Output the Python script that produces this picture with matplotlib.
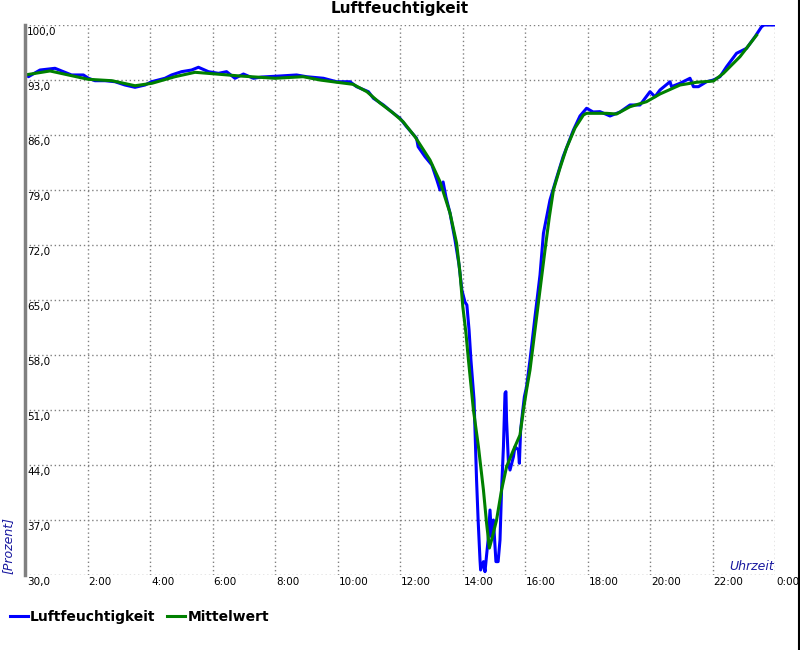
import matplotlib
matplotlib.use("Agg")
import matplotlib.pyplot as plt
import matplotlib.transforms as mtransforms
from matplotlib.lines import Line2D

blue_t = [0, 0.11, 0.48, 0.96, 1.49, 1.87, 2.03, 2.24, 2.56, 2.88, 3.2, 3.52,
          3.84, 4.05, 4.48, 4.69, 5.01, 5.33, 5.55, 5.87, 6.19, 6.45, 6.72,
          6.99, 7.31, 7.58, 8.16, 8.69, 9.01, 9.55, 9.97, 10.4, 10.61, 10.99,
          11.15, 11.47, 11.79, 12.0, 12.21, 12.53, 12.58, 12.8, 13.02, 13.18,
          13.28, 13.38, 13.47, 13.6, 13.76, 13.89, 13.98, 14.08, 14.14, 14.21,
          14.27, 14.37, 14.45, 14.5, 14.56, 14.58, 14.67, 14.72, 14.77, 14.82,
          14.88, 14.93, 14.99, 15.07, 15.14, 15.2, 15.25, 15.31, 15.36, 15.39,
          15.41, 15.47, 15.52, 15.63, 15.68, 15.79, 15.82, 15.86, 15.93, 15.98,
          16.05, 16.16, 16.32, 16.48, 16.59, 16.8, 16.99, 17.22, 17.55, 17.76,
          17.97, 18.18, 18.4, 18.72, 19.04, 19.36, 19.68, 20.0, 20.16, 20.32,
          20.64, 20.69, 20.96, 21.28, 21.39, 21.55, 21.81, 22.03, 22.24, 22.45,
          22.77, 23.09, 23.36, 23.57, 23.65, 24.0]
blue_v = [93.85, 93.42, 94.27, 94.49, 93.64, 93.64, 93.22, 92.91, 92.91, 92.78,
          92.36, 92.07, 92.36, 92.78, 93.22, 93.64, 94.06, 94.27, 94.62, 94.06,
          93.85, 94.06, 93.22, 93.76, 93.22, 93.38, 93.51, 93.64, 93.42, 93.22,
          92.78, 92.78, 92.15, 91.51, 90.67, 89.82, 88.76, 88.13, 87.06, 85.58,
          84.51, 83.24, 82.18, 80.27, 79.0, 80.02, 78.11, 76.07, 72.64, 69.45,
          66.27, 64.74, 64.36, 61.18, 57.36, 52.27, 42.09, 37.0, 31.91, 30.64,
          31.7, 30.42, 32.5, 34.45, 38.27, 34.87, 37.0, 31.7, 31.7, 34.45,
          40.82, 46.33, 53.13, 53.33, 49.73, 44.22, 43.36, 45.06, 46.33, 45.91,
          44.22, 48.45, 51.0, 52.69, 53.97, 57.36, 62.87, 68.18, 73.49, 77.73,
          80.27, 83.24, 86.64, 88.42, 89.4, 88.93, 88.97, 88.42, 88.93, 89.82,
          89.82, 91.51, 90.87, 91.73, 92.78, 92.15, 92.58, 93.22, 92.15, 92.15,
          92.78, 93.0, 93.42, 94.69, 96.4, 97.03, 98.51, 99.78, 100.0, 100.0]

green_t = [0, 0.8, 2.02, 2.78, 3.52, 4.06, 4.8, 5.44, 6.4, 6.88, 8.0, 8.9,
           9.44, 9.98, 10.5, 10.94, 11.36, 11.78, 12.1, 12.48, 12.96, 13.28,
           13.6, 13.81, 13.92, 14.01, 14.11, 14.19, 14.35, 14.51, 14.67, 14.77,
           14.86, 14.93, 15.09, 15.25, 15.41, 15.63, 15.84, 15.95, 16.05, 16.16,
           16.32, 16.48, 16.64, 16.78, 16.91, 17.12, 17.33, 17.6, 17.87, 17.97,
           18.61, 18.93, 19.36, 19.89, 20.32, 20.96, 21.49, 22.03, 22.35, 22.88,
           23.41]
green_v = [93.64, 94.15, 93.09, 92.91, 92.27, 92.58, 93.42, 93.98, 93.67, 93.51,
           93.22, 93.42, 93.0, 92.71, 92.45, 91.51, 90.07, 88.8, 87.69, 85.78,
           82.82, 80.06, 76.07, 72.25, 68.44, 64.15, 60.8, 57.36, 51.0, 46.33,
           40.82, 36.62, 33.43, 34.45, 37.0, 40.82, 43.78, 45.91, 47.82, 51.0,
           53.55, 56.09, 61.18, 66.27, 71.36, 75.6, 79.0, 81.8, 84.35, 86.89,
           88.55, 88.76, 88.76, 88.67, 89.6, 90.24, 91.22, 92.36, 92.71, 92.87,
           93.85, 95.97, 98.7]

y_ticks = [30, 37, 44, 51, 58, 65, 72, 79, 86, 93, 100]
x_ticks = [0, 2, 4, 6, 8, 10, 12, 14, 16, 18, 20, 22, 24]
x_labels = ["", "2:00", "4:00", "6:00", "8:00", "10:00", "12:00", "14:00",
            "16:00", "18:00", "20:00", "22:00", "0:00"]

fig = plt.figure(figsize=(8, 6.5), dpi=100)
ax = fig.add_axes([25 / 800, 1 - 575 / 650, 750 / 800, 550 / 650])

ax.plot(blue_t, blue_v, color="#0000ff", lw=2.2, label="Luftfeuchtigkeit")
ax.plot(green_t, green_v, color="#008000", lw=2.2, label="Mittelwert")

ax.set_xlim(0, 24)
ax.set_ylim(30, 100)
ax.set_xticks(x_ticks)
ax.set_yticks(y_ticks)
ax.tick_params(length=0, labelbottom=False, labelleft=False)
ax.grid(True, linestyle=(0, (1, 2)), color="#808080", linewidth=1)
for s in ["top", "right", "bottom"]:
    ax.spines[s].set_visible(False)
ax.spines["left"].set_color("#808080")
ax.spines["left"].set_linewidth(2.5)

# Achsenbeschriftungen innerhalb des Diagramms
ytrans = mtransforms.blended_transform_factory(ax.transAxes, ax.transData)
ytrans = mtransforms.offset_copy(ytrans, fig=fig, x=2, y=-2, units="dots")
for v in y_ticks:
    ax.text(0, v, f"{v:.1f}".replace(".", ","), transform=ytrans,
            ha="left", va="top", fontsize=7.5, clip_on=False)

xtrans = mtransforms.blended_transform_factory(ax.transData, ax.transAxes)
xtrans = mtransforms.offset_copy(xtrans, fig=fig, x=1, y=-2, units="dots")
for t, lab in zip(x_ticks, x_labels):
    ax.text(t, 0, lab, transform=xtrans, ha="left", va="top",
            fontsize=7.5, clip_on=False)

ax.text(1, 0, "Uhrzeit", transform=mtransforms.offset_copy(
    ax.transAxes, fig=fig, x=-1, y=2, units="dots"),
    ha="right", va="bottom", fontsize=9, style="italic", color="#1a1aa0")
fig.text(8 / 800, 1 - 546 / 650, "[Prozent]", rotation=90, ha="center",
         va="center", fontsize=9, style="italic", color="#1a1aa0")

fig.text(0.5, 1 - 1 / 650, "Luftfeuchtigkeit", ha="center", va="top",
         fontsize=11, fontweight="bold")

fig.legend(loc="center left", bbox_to_anchor=(10 / 800, 1 - 617 / 650),
           ncol=2, frameon=False, borderpad=0, borderaxespad=0,
           handlelength=1.3, handletextpad=0.15, columnspacing=0.85,
           prop={"weight": "bold", "size": 10})

# rechter Rand
fig.add_artist(Line2D([798.5 / 800, 798.5 / 800], [0, 1], color="black",
                      lw=1.5, transform=fig.transFigure))

fig.savefig("out.png", dpi=100)
